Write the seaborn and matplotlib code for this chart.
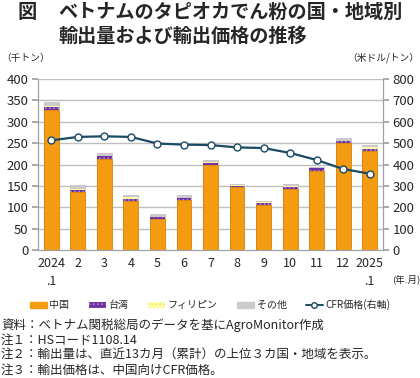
import matplotlib
matplotlib.use("Agg")
import matplotlib.pyplot as plt
from matplotlib.patches import Patch
from matplotlib.lines import Line2D
import seaborn as sns
import pandas as pd
import numpy as np

months = ["2024\n.1", "2", "3", "4", "5", "6", "7", "8", "9", "10", "11", "12", "2025\n.1"]
china = [327, 136, 214, 114, 72, 117, 199, 148, 105, 143, 185, 250, 232]
taiwan = [7, 4, 6, 5, 5, 4, 5, 2, 6, 5, 6, 5, 5]
philippines = [2, 3, 1, 4, 1, 1, 1, 1, 1, 1, 1, 1, 5]
others = [11, 10, 7, 5, 6, 6, 5, 3, 3, 5, 2, 7, 4]
cfr = [513, 529, 532, 529, 498, 493, 491, 480, 477, 454, 421, 379, 357]

sns.set_theme(style="white")
plt.rcParams['font.family'] = ['Noto Sans CJK JP', 'DejaVu Sans']
plt.rcParams['hatch.linewidth'] = 0.8

df = pd.DataFrame({"month": months, "cn": china, "tw": taiwan, "ph": philippines, "ot": others})
df["c1"] = df["cn"]
df["c2"] = df["c1"] + df["tw"]
df["c3"] = df["c2"] + df["ph"]
df["c4"] = df["c3"] + df["ot"]

fig = plt.figure(figsize=(4.2, 3.78), dpi=100)
ax = fig.add_axes([38/420, 1-250/378, (383-38)/420, (250-79)/378])

grid_c = "#BFBFBF"
for v in range(50, 401, 50):
    ax.axhline(v, color=grid_c, lw=1.0, zorder=0)

W = 0.56
c_orange = "#F39C12"
c_purple = "#7030A0"
c_yellow = "#FFFFA6"
c_gray = "#CBCBCB"
sns.barplot(data=df, x="month", y="c4", color=c_gray, width=W, saturation=1, ax=ax,
            edgecolor="#BDBDBD", linewidth=0.5, zorder=2)
sns.barplot(data=df, x="month", y="c3", color=c_yellow, width=W, saturation=1, ax=ax,
            edgecolor="#E8E070", hatch="....", linewidth=0, zorder=2)
sns.barplot(data=df, x="month", y="c2", color=c_purple, width=W, saturation=1, ax=ax,
            edgecolor="#A58BD0", hatch="....", linewidth=0, zorder=2)
sns.barplot(data=df, x="month", y="c1", color=c_orange, width=W, saturation=1, ax=ax,
            edgecolor="#E48A00", linewidth=0.6, zorder=2)

ax.set_ylim(0, 400)
ax.set_xlim(-0.5, 12.5)
ax.set_yticks(range(0, 401, 50))
ax.set_xlabel("")
ax.set_ylabel("")
ax.set_xticks(range(13))
ax.set_xticklabels(months, fontsize=9, linespacing=1.5)
ax.set_xticks(np.arange(-0.5, 13, 1), minor=True)
ax.tick_params(axis="x", which="major", length=0, pad=5)
ax.tick_params(axis="x", which="minor", length=4, color="#A0A0A0", width=0.8)
ax.tick_params(axis="y", length=4, color="#A0A0A0", labelsize=9.5, pad=3)
for s in ["top"]:
    ax.spines[s].set_visible(False)
for s in ["left", "right", "bottom"]:
    ax.spines[s].set_color("#A0A0A0")
    ax.spines[s].set_linewidth(0.8)

ax2 = ax.twinx()
line_c = "#1B4A64"
sns.lineplot(x=np.arange(13), y=cfr, ax=ax2, color=line_c, lw=1.6, marker="o",
             markersize=5, markerfacecolor="white", markeredgecolor=line_c,
             markeredgewidth=1.0, zorder=5)
ax2.set_ylim(0, 800)
ax2.set_yticks(range(0, 801, 100))
ax2.tick_params(axis="y", length=4, color="#A0A0A0", labelsize=9.5, pad=3)
ax2.spines["top"].set_visible(False)
for s in ["left", "right", "bottom"]:
    ax2.spines[s].set_color("#A0A0A0")
    ax2.spines[s].set_linewidth(0.8)
ax2.grid(False)
ax2.set_xlim(-0.5, 12.5)

# Titles and labels
fig.text(18/420, 1-12/378, "図", fontsize=13.8, fontweight="bold", va="center", ha="left")
fig.text(58/420, 1-12/378, "ベトナムのタピオカでん粉の国・地域別", fontsize=13.8,
         fontweight="bold", va="center", ha="left")
fig.text(58/420, 1-36/378, "輸出量および輸出価格の推移", fontsize=13.8,
         fontweight="bold", va="center", ha="left")
fig.text(1/420, 1-58/378, "（千トン）", fontsize=7, va="center", ha="left")
fig.text(419/420, 1-58/378, "（米ドル/トン）", fontsize=7, va="center", ha="right")
fig.text(420/420, 1-279/378, "(年.月)", fontsize=6.8, va="center", ha="right")

handles = [
    Patch(facecolor=c_orange, edgecolor=c_orange),
    Patch(facecolor=c_purple, edgecolor="#A58BD0", hatch="....", linewidth=0),
    Patch(facecolor=c_yellow, edgecolor="#E8E070", hatch="....", linewidth=0),
    Patch(facecolor=c_gray, edgecolor=c_gray),
    Line2D([0], [0], color=line_c, lw=1.4, marker="o", markersize=4,
           markerfacecolor="white", markeredgecolor=line_c),
]
labels = ["中国", "台湾", "フィリピン", "その他", "CFR価格(右軸)"]
fig.legend(handles, labels, loc="center", bbox_to_anchor=(210/420, 1-305/378), ncol=5,
           frameon=False, fontsize=7.2, handlelength=1.7, handleheight=0.5,
           columnspacing=1.9, handletextpad=0.3, borderaxespad=0)

notes = [
    "資料：ベトナム関税総局のデータを基にAgroMonitor作成",
    "注１：HSコード1108.14",
    "注２：輸出量は、直近13カ月（累計）の上位３カ国・地域を表示。",
    "注３：輸出価格は、中国向けCFR価格。",
]
for i, n in enumerate(notes):
    fig.text(1/420, 1-(325+15*i)/378, n, fontsize=9, va="center", ha="left")

fig.savefig("out.png", dpi=100)
